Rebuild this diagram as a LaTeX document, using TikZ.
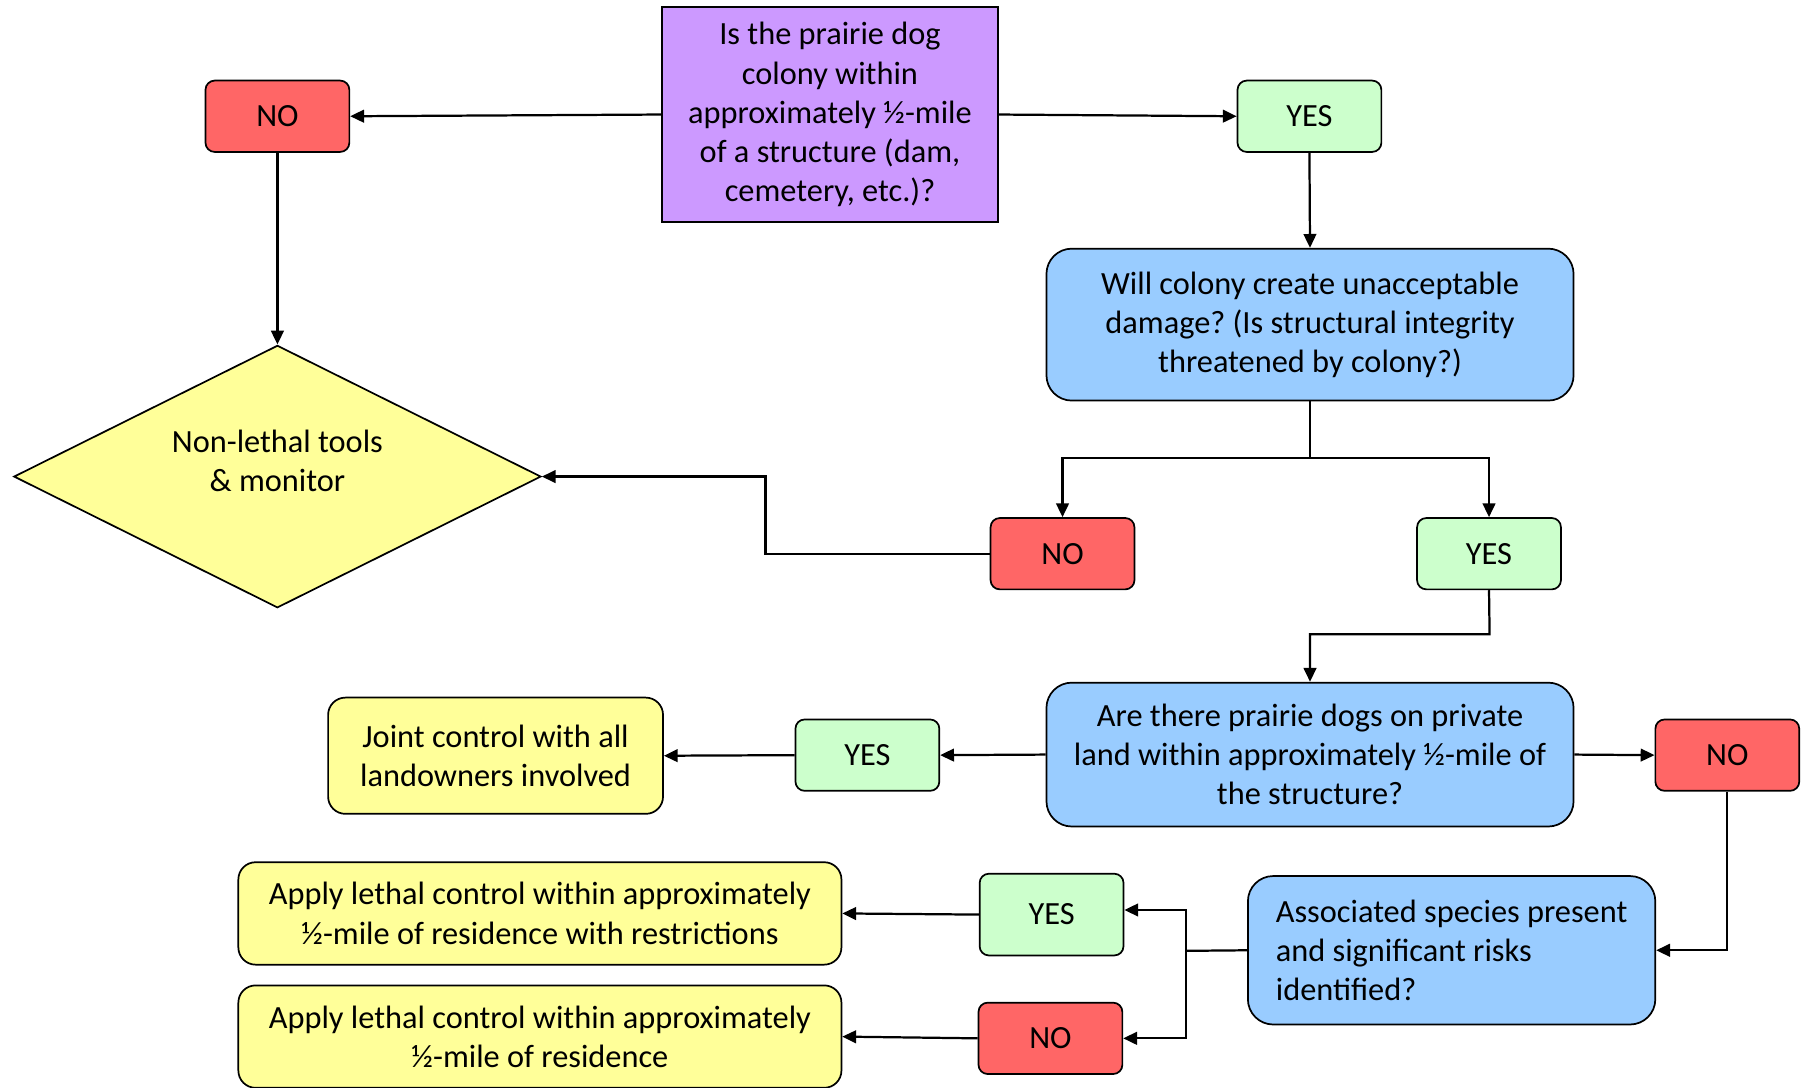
\documentclass[tikz,border=0pt]{standalone}
\usepackage{fontspec}
\setmainfont{Carlito}
\frenchspacing
\usetikzlibrary{shapes.geometric,arrows.meta}
\definecolor{qpurple}{HTML}{CC99FF}
\definecolor{nored}{HTML}{FF6666}
\definecolor{yesgreen}{HTML}{CCFFCC}
\definecolor{askblue}{HTML}{99CCFF}
\definecolor{actyellow}{HTML}{FFFF99}
\begin{document}
\begin{tikzpicture}[x=0.02cm,y=-0.02cm,
  box/.style={draw=black, line width=0.85pt, align=center, inner sep=0pt,
    font=\fontsize{16}{19.35}\selectfont},
  nobox/.style={box, fill=nored, rounded corners=0.16cm, minimum width=2.5cm, minimum height=1.24cm},
  yesbox/.style={box, fill=yesgreen, rounded corners=0.16cm, minimum width=2.5cm, minimum height=1.24cm},
  askbox/.style={box, fill=askblue, rounded corners=0.44cm},
  actbox/.style={box, fill=actyellow, rounded corners=0.3cm},
  plain/.style={align=center, inner sep=0pt, font=\fontsize{16}{19.35}\selectfont},
  link/.style={line width=1.1pt},
  arr/.style={link, -{Triangle[length=0.24cm,width=0.22cm]}}]
\fill[white] (0,0) rectangle (1568,945);
\useasboundingbox (0,0) rectangle (1568,945);

% question at the top
\node[box, fill=qpurple, rounded corners=0pt, minimum width=5.84cm, minimum height=3.74cm]
  (q1) at (721,99.5) {Is the prairie dog\\colony within\\approximately ½-mile\\of a structure (dam,\\cemetery, etc.)?};
\node[nobox]  (no1)  at (241,101) {NO};
\node[yesbox] (yes1) at (1137.5,101) {YES};

% damage question
\node[askbox, minimum width=9.16cm, minimum height=2.64cm] (q2) at (1138,282)
  {Will colony create unacceptable\\damage? (Is structural integrity\\threatened by colony?)};
\node[nobox]  (no2)  at (923,481) {NO};
\node[yesbox] (yes2) at (1293.5,481) {YES};

% non-lethal outcome
\node[draw=black, line width=0.85pt, fill=actyellow, shape=diamond, inner sep=0pt,
  minimum width=9.16cm, minimum height=4.56cm] (nl) at (241,414) {};
\node[plain] (nltext) at (241,400) {Non-lethal tools\\\& monitor};

% private land question
\node[askbox, minimum width=9.16cm, minimum height=2.5cm] (q3) at (1138,655.5)
  {Are there prairie dogs on private\\land within approximately ½-mile of\\the structure?};
\node[yesbox] (yes3) at (753.5,656) {YES};
\node[actbox, minimum width=5.82cm, minimum height=2.02cm] (joint) at (430.5,656.5)
  {Joint control with all\\landowners involved};
\node[nobox]  (no3)  at (1500.5,656) {NO};

% associated species question
\node[askbox, align=left, minimum width=7.08cm, minimum height=2.58cm]
  (q4) at (1261,825.5) {Associated species present\\and significant risks\\identified?};
\node[yesbox, minimum height=1.42cm] (yes4) at (913.5,794.5) {YES};
\node[nobox] (no4) at (912.5,902) {NO};
\node[actbox, minimum width=10.48cm, minimum height=1.78cm] (lc1) at (469,793.5)
  {Apply lethal control within approximately\\½-mile of residence with restrictions};
\node[actbox, minimum width=10.48cm, minimum height=1.78cm] (lc2) at (469,900.5)
  {Apply lethal control within approximately\\½-mile of residence};

% bend points
\coordinate (br1) at (1138,398);
\coordinate (jog) at (665,414);
\coordinate (br2) at (1294,551);
\coordinate (br3) at (1030,826);

% connectors
\draw[arr] (q1.west) -- (no1.east);
\draw[arr] (q1.east) -- (yes1.west);
\draw[arr] (yes1.south) -- (q2.north);
\draw[arr] (no1.south) -- (nl.north);
\draw[link] (q2.south) -- (br1);
\draw[arr] (br1) -| (no2.north);
\draw[arr] (br1) -| (yes2.north);
\draw[arr] (no2.west) -| (jog) -- (nl.east);
\draw[arr] (yes2.south) -- (br2) -| (q3.north);
\draw[arr] (q3.west) -- (yes3.east);
\draw[arr] (yes3.west) -- (joint.east);
\draw[arr] (q3.east) -- (no3.west);
\draw[arr] (no3.south) |- (q4.east);
\draw[link] (q4.west) -- (br3);
\draw[arr] (br3) |- ([yshift=0.08cm]yes4.east);
\draw[arr] (br3) |- (no4.east);
\draw[arr] (yes4.west) -- (lc1.east);
\draw[arr] (no4.west) -- (lc2.east);
\end{tikzpicture}
\end{document}
